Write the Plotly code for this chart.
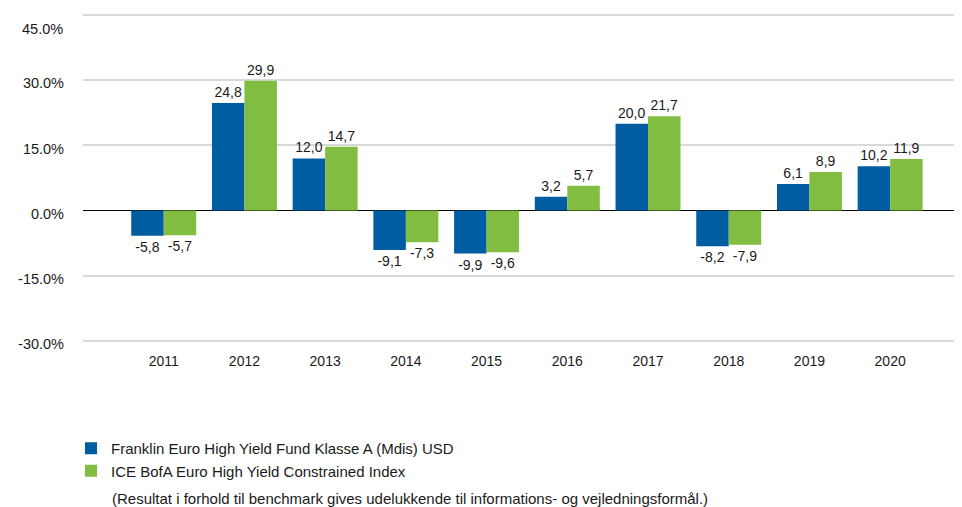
import plotly.graph_objects as go

years = ["2011", "2012", "2013", "2014", "2015", "2016", "2017", "2018", "2019", "2020"]
fund = [-5.8, 24.8, 12.0, -9.1, -9.9, 3.2, 20.0, -8.2, 6.1, 10.2]
index = [-5.7, 29.9, 14.7, -7.3, -9.6, 5.7, 21.7, -7.9, 8.9, 11.9]
fund_name = "Franklin Euro High Yield Fund Klasse A (Mdis) USD"
index_name = "ICE BofA Euro High Yield Constrained Index"
y_ticks = [-30, -15, 0, 15, 30, 45]
footnote = "(Resultat i forhold til benchmark gives udelukkende til informations- og vejledningsformål.)"

FONT = "Liberation Sans, Arial, sans-serif"
TXT = "#1a1a1a"

def fmt(v):
    return f"{v:.1f}".replace(".", ",")

fig = go.Figure()
fig.add_trace(go.Bar(x=years, y=fund, name=fund_name, marker=dict(color="#005DA2", line=dict(width=0)),
                     text=[fmt(v) for v in fund], textposition="outside", cliponaxis=False,
                     constraintext="none",
                     textfont=dict(size=14, color=TXT, family=FONT)))
fig.add_trace(go.Bar(x=years, y=index, name=index_name, marker=dict(color="#80BD41", line=dict(width=0)),
                     text=[fmt(v) for v in index], textposition="outside", cliponaxis=False,
                     constraintext="none",
                     textfont=dict(size=14, color=TXT, family=FONT)))

W, H = 954, 499
T, B = 5, 164
PH = H - T - B
top = y_ticks[-1]
fig.update_layout(
    width=W, height=H,
    margin=dict(l=75, r=0, t=T, b=B, autoexpand=False),
    paper_bgcolor="white", plot_bgcolor="white",
    barmode="group", bargap=0.195, bargroupgap=0,
    font=dict(family=FONT, size=14, color=TXT),
    showlegend=True,
    legend=dict(orientation="v", xref="container", yref="container", x=63/W, y=1-424/H,
                xanchor="left", yanchor="top", font=dict(size=15, family=FONT, color=TXT),
                tracegroupgap=0, itemwidth=30, bgcolor="rgba(0,0,0,0)"),
    xaxis=dict(range=[-1.0, 9.89], showgrid=False, showline=False, ticks="",
               tickfont=dict(size=14, color=TXT), ticklabelstandoff=8, fixedrange=True),
    yaxis=dict(range=[-30.5, 45.5], tickvals=y_ticks,
               ticktext=[f"{v:.1f}%" if v != top else "" for v in y_ticks],
               showgrid=True, gridcolor="#d9d9d9", gridwidth=1.5,
               zeroline=True, zerolinecolor="#000000", zerolinewidth=1.2,
               showline=False, ticks="", tickfont=dict(size=14.5, color=TXT),
               ticklabelstandoff=18, ticklabelshift=3, fixedrange=True),
    annotations=[
        dict(text=footnote, xref="paper", yref="paper", x=27/879, y=-(490-(H-B))/PH,
             xanchor="left", yanchor="middle", showarrow=False,
             font=dict(size=15, family=FONT, color=TXT)),
        dict(text=f"{top:.1f}%", xref="paper", yref="y", x=0, y=top, xshift=-18,
             yshift=-14, xanchor="right", yanchor="middle", showarrow=False,
             font=dict(size=14.5, family=FONT, color=TXT)),
    ],
)
fig.write_html("out.html")
